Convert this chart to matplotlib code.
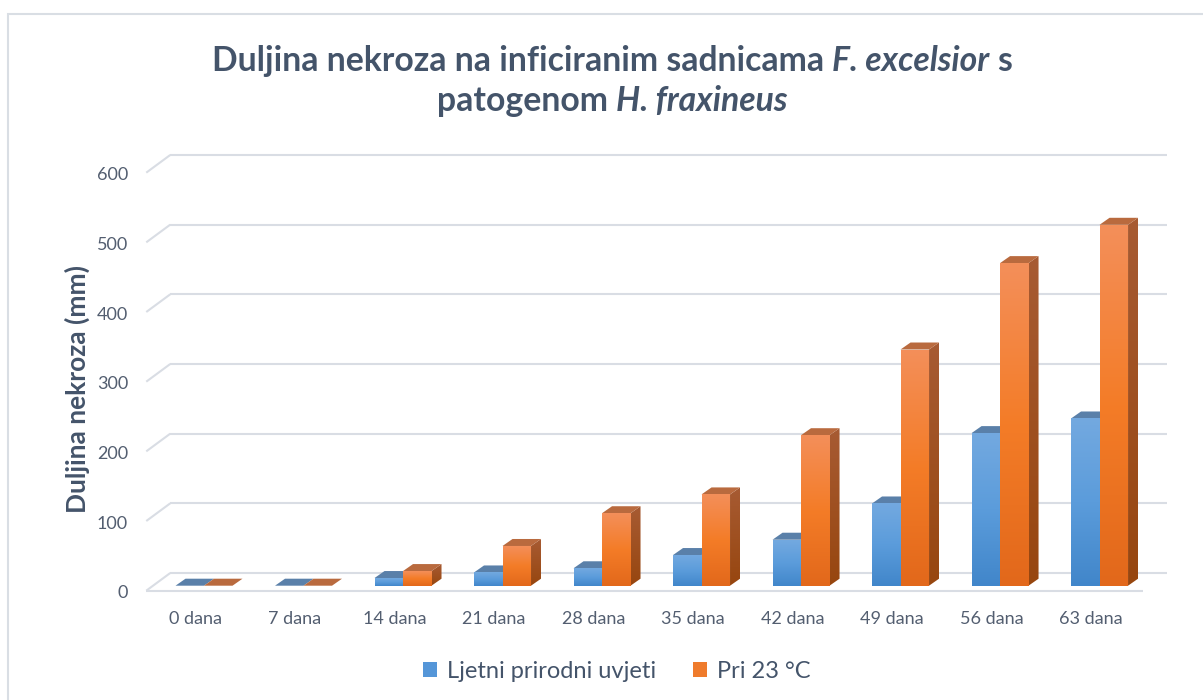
import numpy as np
import matplotlib
matplotlib.use("Agg")
import matplotlib.pyplot as plt
from matplotlib.patches import Polygon, Rectangle, Patch
from matplotlib.colors import LinearSegmentedColormap
from matplotlib.transforms import ScaledTranslation

# ---- data ---------------------------------------------------------------
categories = ["0 dana", "7 dana", "14 dana", "21 dana", "28 dana",
              "35 dana", "42 dana", "49 dana", "56 dana", "63 dana"]
ljetni = [0, 0, 11, 19, 25, 44, 66, 118, 219, 240]
pri_23 = [0, 0, 21, 57, 104, 131, 216, 339, 463, 518]
series_names = ["Ljetni prirodni uvjeti", "Pri 23 °C"]
y_ticks = [0, 100, 200, 300, 400, 500, 600]

plt.rcParams['font.family'] = ['Lato', 'DejaVu Sans']

W, H = 1203, 700
fig = plt.figure(figsize=(W / 100, H / 100), dpi=100)
fig.patch.set_facecolor('white')

ax = fig.add_axes([0.09514, 0.13443, 0.8933, 0.66586])
ax.set_xlim(-0.9, 9.9)
ax.set_ylim(-29, 640)
ax.set_axis_off()


def px(dx, dy):
    """Convert a screen offset in pixels (right, up) into data units."""
    inv = ax.transData.inverted()
    x0, y0 = ax.transData.transform((0, 0))
    x1, y1 = inv.transform((x0 + dx, y0 + dy))
    return x1, y1


def shift(dx, dy):
    return ax.transData + ScaledTranslation(dx / 100, dy / 100, fig.dpi_scale_trans)


# perspective offsets of the back wall and the front edge of the floor
bx, by = px(16, 12.7)
fx, fy = px(-8, -5)
x_left, x_right = -0.5, 9.52

grid_c = '#D9DDE4'
for v in y_ticks:
    ax.plot([x_left + bx, x_right + bx], [v + by, v + by], color=grid_c, lw=1.5, zorder=1,
            solid_capstyle='butt')
    ax.plot([x_left + fx, x_left + bx], [v + fy, v + by], color=grid_c, lw=1.5, zorder=1,
            solid_capstyle='butt')
ax.plot([x_left + fx, x_right + fx], [fy, fy], color=grid_c, lw=1.5, zorder=1,
        solid_capstyle='butt')

# ---- 3D-looking columns -------------------------------------------------
styles = [
    dict(front=['#4186CA', '#5B9CDB', '#73A9E0'], side=['#2F5F92', '#3F6FA2'], top='#5A80A9'),
    dict(front=['#E2681B', '#F47C27', '#F38F5A'], side=['#97460F', '#A75B33'], top='#B96A3E'),
]
bar_w = 28.5 / 99.5
ddx, ddy = px(10, 7)
grad = np.linspace(0, 1, 256).reshape(-1, 1)
z = [3]


def next_z():
    z[0] += 0.01
    return z[0]


def grad_fill(xy, colors):
    cmap = LinearSegmentedColormap.from_list('g', colors)
    poly = Polygon(xy, closed=True, facecolor='none', edgecolor='none')
    ax.add_patch(poly)
    xs = [p[0] for p in xy]
    ys = [p[1] for p in xy]
    im = ax.imshow(grad, cmap=cmap, origin='lower', aspect='auto', interpolation='bilinear',
                   extent=[min(xs), max(xs), min(ys), max(ys)], zorder=next_z())
    im.set_clip_path(poly)


for i in range(len(categories)):
    for s, vals in enumerate([ljetni, pri_23]):
        v = vals[i]
        st = styles[s]
        x0 = i - bar_w if s == 0 else i
        x1 = x0 + bar_w
        if v > 0:
            grad_fill([(x1, 0), (x1 + ddx, ddy), (x1 + ddx, v + ddy), (x1, v)], st['side'])
        ax.add_patch(Polygon([(x0, v), (x1, v), (x1 + ddx, v + ddy), (x0 + ddx, v + ddy)],
                             closed=True, facecolor=st['top'], edgecolor='none', zorder=next_z()))
        if v > 0:
            grad_fill([(x0, 0), (x1, 0), (x1, v), (x0, v)], st['front'])

ax.set_xlim(-0.9, 9.9)
ax.set_ylim(-29, 640)

# ---- axis labels ---------------------------------------------------------
tick_c = '#535E70'
for v in y_ticks:
    ax.text(x_left, v, str(v), transform=shift(-26.25, -12.5), ha='right', va='baseline',
            fontsize=13, color=tick_c)
for i, cat in enumerate(categories):
    ax.text(i, 0, cat, transform=shift(-8.5, -38.8), ha='center', va='baseline',
            fontsize=13, color=tick_c)

fig.text(77 / W, 1 - 389 / H, "Duljina nekroza (mm)", rotation=90, ha='center', va='center',
         fontsize=19, fontweight='bold', color='#44546A')

# ---- title with italic species names -------------------------------------
title_c = '#44546A'
line1 = [("Duljina nekroza na inficiranim sadnicama", 'normal'),
         ("F. excelsior", 'italic'), ("s", 'normal')]
line2 = [("patogenom", 'normal'), ("H. fraxineus", 'italic')]
renderer = fig.canvas.get_renderer()


def text_width(s, size, style='normal'):
    t = fig.text(0, 0, s, fontsize=size, fontweight='bold', fontstyle=style)
    w = t.get_window_extent(renderer).width
    t.remove()
    return w


def rich_line(pieces, baseline_px, size, center_px=612):
    space = text_width("a a", size) - text_width("aa", size)
    widths = [text_width(s, size, st) for s, st in pieces]
    total = sum(widths) + space * (len(pieces) - 1)
    x = center_px - total / 2
    for (s, st), w in zip(pieces, widths):
        fig.text(x / W, 1 - baseline_px / H, s, fontsize=size, fontweight='bold',
                 fontstyle=st, color=title_c, ha='left', va='baseline')
        x += w + space


base = 20
w1 = sum(text_width(s, base, st) for s, st in line1) + 2 * (text_width("a a", base) - text_width("aa", base))
title_size = base * 800 / w1
rich_line(line1, 71, title_size)
rich_line(line2, 111, title_size)

# ---- legend --------------------------------------------------------------
handles = [Patch(facecolor='#5596D8', edgecolor='none'), Patch(facecolor='#EF7B2C', edgecolor='none')]
fig.legend(handles, series_names, loc='center', bbox_to_anchor=(617 / W, 1 - 671 / H), ncol=2,
           frameon=False, fontsize=17, handlelength=0.58, handleheight=0.58, handletextpad=0.45,
           columnspacing=1.55, labelcolor='#44546A')

# chart area border
fig.add_artist(Rectangle((8 / W, -0.05), 1.1, 1 - 14 / H + 0.05, transform=fig.transFigure,
                         fill=False, edgecolor='#D9DEE4', lw=1.5))

fig.savefig('out.png', dpi=100, facecolor='white')
